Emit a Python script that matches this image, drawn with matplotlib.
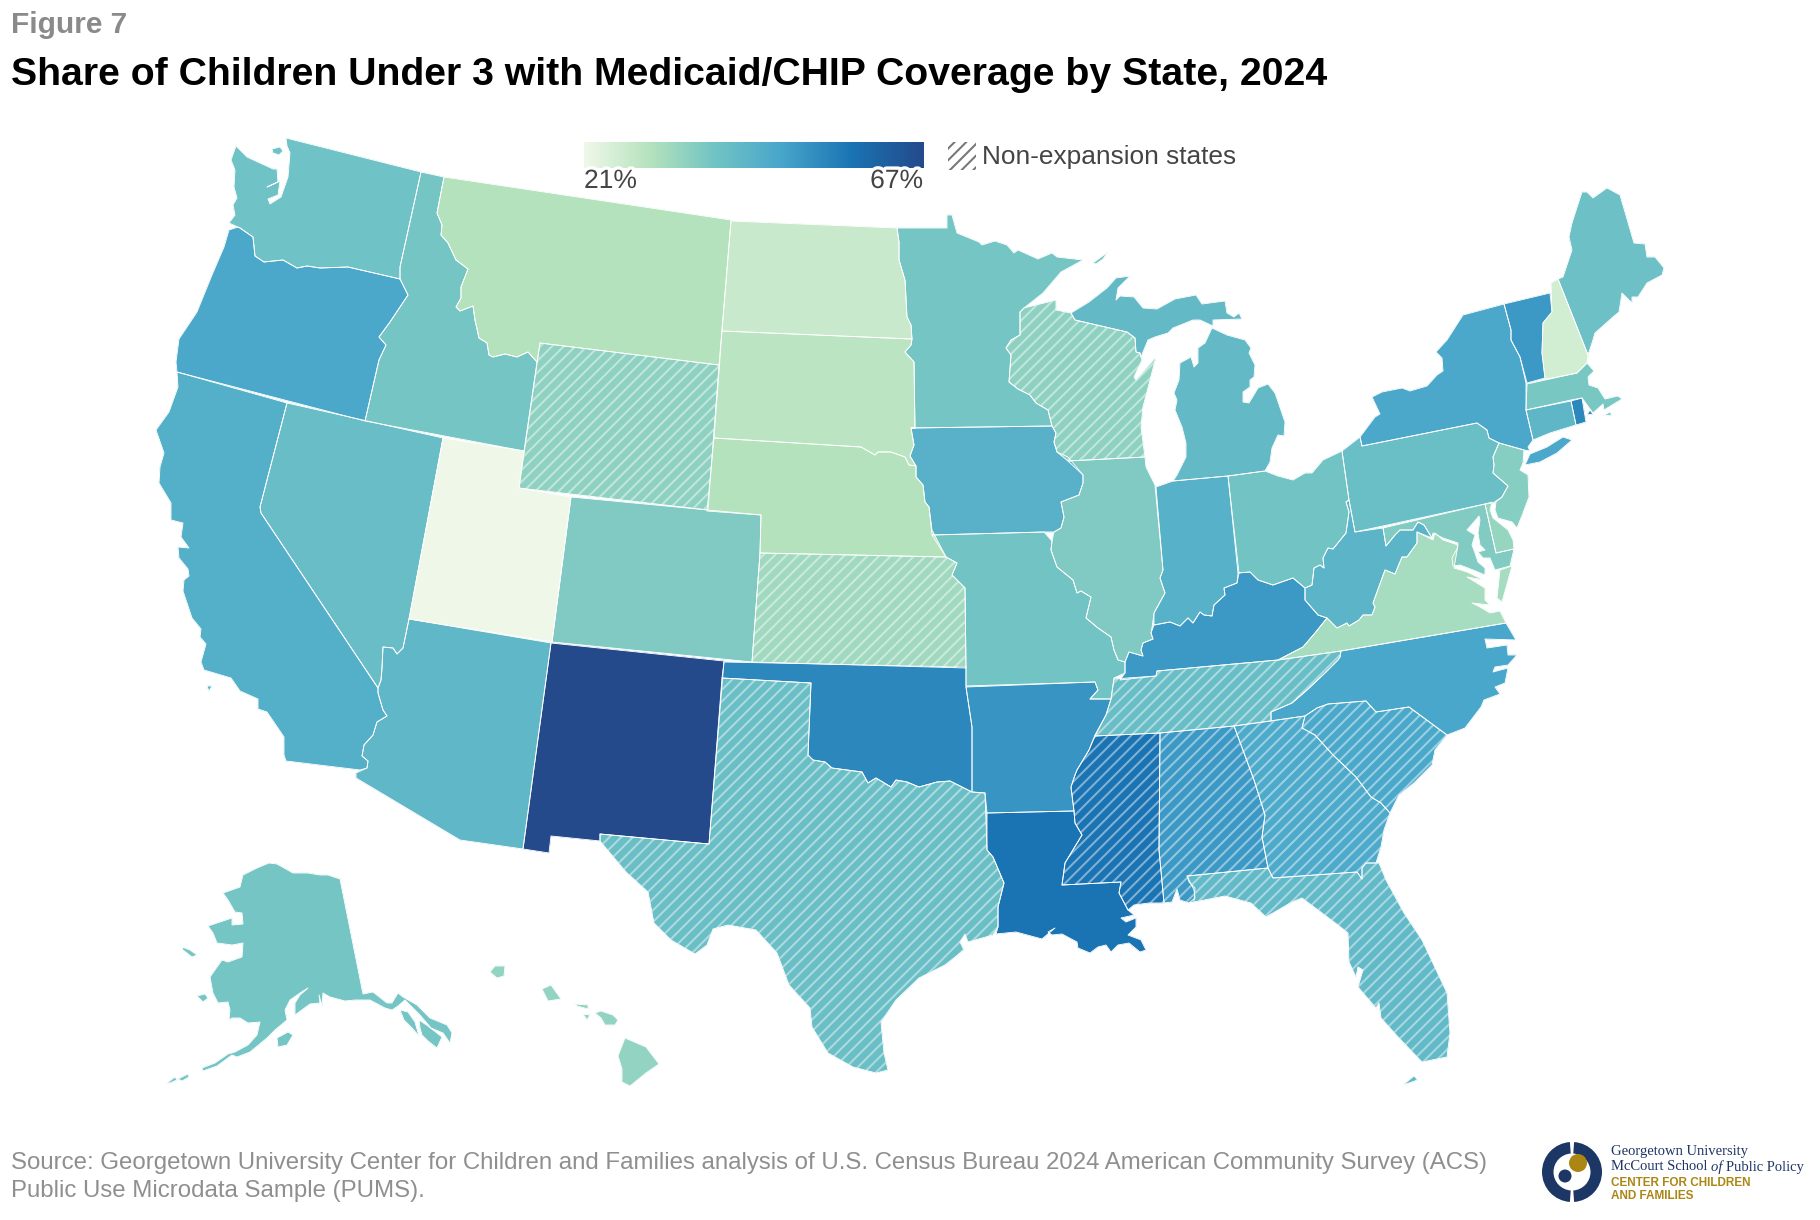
import numpy as np
import matplotlib
matplotlib.use("Agg")
import matplotlib.pyplot as plt
from matplotlib.colors import LinearSegmentedColormap, Normalize, to_rgb
from matplotlib.patches import PathPatch, Circle, Wedge
from matplotlib.path import Path
import matplotlib.patheffects as pe

# ---------- values ----------
STATE_VALUES = {
 "AL":50.2,"AK":38.1,"AZ":42.4,"AR":51.0,"CA":45.0,"CO":36.7,"CT":42.7,"DE":33.9,"FL":42.0,"GA":46.6,
 "HI":34.4,"ID":38.1,"IL":36.8,"IN":44.4,"IA":44.2,"KS":32.6,"KY":50.2,"LA":57.3,"ME":39.6,"MD":36.5,
 "MA":37.6,"MI":41.8,"MN":38.1,"MS":57.3,"MO":38.6,"MT":30.0,"NE":30.0,"NV":40.7,"NH":25.5,"NJ":35.9,
 "NM":67.0,"NY":47.0,"NC":47.5,"ND":27.0,"OH":38.5,"OK":53.7,"OR":47.0,"PA":40.3,"RI":53.7,"SC":47.2,
 "SD":29.0,"TN":40.7,"TX":40.3,"UT":21.0,"VT":50.2,"VA":31.8,"WA":39.2,"WV":43.3,"WI":35.0,"WY":35.0,
}
NON_EXPANSION = ["WY","KS","WI","TX","TN","MS","AL","GA","SC","FL"]
SCALE_STOPS = [21.0, 30.0, 38.5, 47.7, 57.3, 67.0]
SCALE_COLORS = ["#eff8e8", "#b4e2bd", "#72c4c4", "#48a6cb", "#1a74b3", "#244a8c"]
LEGEND_LABELS = ["21%", "67%"]

WA = [[(286,138),(421,172),(400,267),(400,279),(348,267),(320,268),(307,266),(297,268),(283,260),(264,262),(255,256),(253,237),(240,228),(229,223),(235,215),(233,205),(237,198),(234,187),(235,170),(231,160),(236,146),(247,157),(273,169),(277,169),(278,182),(267,187),(280,181),(278,195),(268,199),(270,204),(281,197),(288,177),(290,153),(287,146)],
      [(272,149),(280,147),(283,151),(279,155),(273,153)]]
ID = [[(421,172),(444,177),(437,213),(442,225),(441,235),(448,243),(456,260),(468,269),(461,287),(461,298),(456,307),(460,311),(473,306),(475,320),(479,338),(487,343),(489,355),(493,357),(505,354),(517,357),(528,352),(537,362),(524,451),(365,421),(379,360),(386,345),(379,337),(390,322),(408,295),(400,279),(400,267)]]
OR = [[(400,279),(408,295),(390,322),(379,337),(386,345),(379,360),(365,421),(177,372),(176,362),(179,339),(197,312),(212,275),(224,247),(229,230),(238,227),(240,228),(253,237),(255,256),(264,262),(283,260),(297,268),(307,266),(320,268),(348,267)]]
MT = [[(444,177),(731,220),(719,365),(540,343),(537,362),(528,352),(517,357),(505,354),(493,357),(489,355),(487,343),(479,338),(475,320),(473,306),(460,311),(456,307),(461,298),(461,287),(468,269),(456,260),(448,243),(441,235),(442,225),(437,213)]]
WY = [[(540,343),(719,365),(708,510),(519,488)]]
ND = [[(731,221),(897,228),(899,242),(899,260),(905,280),(907,317),(911,325),(912,339),(722,331)]]
SD = [[(722,331),(912,339),(911,345),(905,352),(914,362),(915,428),(911,428),(914,445),(910,456),(916,466),(909,465),(905,457),(891,452),(878,452),(875,455),(861,447),(714,438)]]
NE = [[(714,438),(861,447),(875,455),(878,452),(891,452),(905,457),(909,465),(916,466),(916,477),(923,485),(925,502),(929,507),(932,530),(946,557),(760,553),(761,515),(707,511)]]
KS = [[(760,553),(946,557),(957,563),(952,575),(965,588),(966,668),(752,662)]]
CO = [[(571,497),(708,510),(761,515),(760,553),(752,662),(552,642)]]
UT = [[(443,438),(524,451),(519,488),(571,497),(552,642),(409,619)]]
NV = [[(287,403),(443,438),(409,619),(403,648),(397,654),(393,648),(383,647),(382,668),(381,680),(378,688),(261,513),(260,507)]]
CA = [[(177,372),(287,403),(260,507),(261,513),(378,688),(378,693),(383,710),(387,716),(377,722),(373,735),(364,745),(362,756),(368,761),(367,768),(360,770),(286,761),(284,755),(284,737),(267,712),(258,709),(258,699),(240,691),(231,678),(204,670),(201,662),(206,644),(200,637),(201,629),(192,618),(183,591),(184,580),(189,576),(188,569),(179,558),(178,547),(189,548),(181,537),(183,523),(171,520),(171,503),(159,483),(160,467),(164,453),(156,430),(169,412),(178,387)],
      [(207,686),(212,686),(209,691)]]
AZ = [[(409,619),(551,643),(523,849),(460,840),(356,778),(356,773),(367,768),(368,761),(362,756),(364,745),(373,735),(377,722),(387,716),(383,710),(378,693),(378,688),(381,680),(382,668),(383,647),(393,648),(397,654),(403,648)]]
NM = [[(551,643),(724,661),(709,844),(600,834),(600,841),(551,836),(549,853),(523,849)]]
OK = [[(724,662),(966,667),(966,687),(972,727),(972,792),(950,781),(937,782),(919,787),(907,782),(896,780),(891,787),(876,778),(868,783),(862,772),(832,768),(825,762),(813,760),(808,755),(811,683),(722,678)]]
TX = [[(722,678),(811,683),(808,755),(813,760),(825,762),(832,768),(862,772),(868,783),(876,778),(891,787),(896,780),(907,782),(919,787),(937,782),(950,781),(972,792),(985,793),(987,850),(993,857),(1004,883),(998,907),(998,927),(993,935),(968,942),(965,934),(960,942),(964,950),(945,965),(919,978),(896,1000),(881,1022),(884,1053),(888,1070),(876,1073),(853,1067),(828,1053),(812,1027),(810,1008),(789,985),(777,953),(756,930),(728,925),(713,929),(707,945),(695,954),(671,940),(654,923),(648,892),(626,872),(600,841),(600,834),(709,844)]]
MN = [[(897,228),(947,228),(947,215),(952,215),(957,233),(979,242),(982,245),(995,241),(1007,245),(1014,253),(1018,250),(1038,259),(1052,253),(1057,257),(1083,260),(1061,272),(1043,293),(1024,308),(1020,312),(1020,335),(1011,340),(1006,348),(1011,355),(1009,382),(1018,389),(1030,395),(1036,403),(1048,410),(1052,426),(911,428),(915,428),(914,362),(905,352),(911,345),(912,339),(911,325),(907,317),(905,280),(899,260),(899,242)],
      [(1093,263),(1108,252),(1103,259),(1096,264)]]
IA = [[(911,428),(1052,426),(1056,433),(1054,442),(1057,452),(1068,457),(1083,475),(1083,483),(1079,495),(1061,502),(1064,517),(1061,528),(1054,532),(1044,532),(932,535),(929,507),(925,502),(923,485),(916,477),(916,466),(910,456),(914,445)]]
MO = [[(932,535),(1044,532),(1052,541),(1051,550),(1057,567),(1073,580),(1077,593),(1081,591),(1091,597),(1086,618),(1098,628),(1111,637),(1114,650),(1118,660),(1125,662),(1125,673),(1114,678),(1111,699),(1090,699),(1098,690),(1095,682),(966,686),(966,668),(965,588),(952,575),(957,563),(946,557)]]
AR = [[(966,687),(1095,682),(1098,690),(1090,699),(1111,699),(1106,715),(1095,735),(1089,750),(1077,770),(1075,775),(1071,787),(1074,811),(987,813),(985,793),(972,792),(972,727)]]
LA = [[(987,813),(1074,811),(1075,823),(1082,835),(1065,863),(1062,885),(1121,882),(1119,893),(1128,910),(1134,915),(1121,918),(1126,922),(1136,918),(1136,927),(1128,935),(1141,940),(1146,950),(1140,952),(1129,943),(1118,945),(1111,952),(1106,945),(1098,947),(1090,953),(1078,948),(1077,942),(1062,934),(1052,935),(1048,932),(1055,928),(1042,939),(1016,932),(996,934),(998,927),(998,907),(1004,883),(993,857),(987,850)]]
MS = [[(1095,736),(1160,733),(1159,850),(1164,903),(1149,903),(1134,905),(1128,910),(1119,893),(1121,882),(1062,885),(1065,863),(1082,835),(1075,823),(1074,811),(1071,787),(1075,775),(1077,770),(1089,750)]]
AL = [[(1160,733),(1234,726),(1254,780),(1265,815),(1262,837),(1268,868),(1187,876),(1189,882),(1195,888),(1194,902),(1189,903),(1180,900),(1177,889),(1172,902),(1164,903),(1159,850)]]
GA = [[(1234,726),(1305,716),(1302,728),(1315,735),(1333,755),(1356,777),(1371,797),(1381,803),(1390,813),(1384,830),(1381,847),(1376,863),(1366,863),(1362,868),(1362,879),(1357,872),(1273,878),(1268,868),(1262,837),(1265,815),(1254,780)]]
SC = [[(1305,716),(1317,708),(1328,704),(1366,701),(1376,712),(1409,707),(1447,735),(1435,750),(1432,765),(1414,783),(1399,795),(1390,813),(1381,803),(1371,797),(1356,777),(1333,755),(1315,735),(1302,728)]]
NC = [[(1271,721),(1271,712),(1292,703),(1307,690),(1325,673),(1338,660),(1340,657),(1341,651),(1506,623),(1516,640),(1485,639),(1487,648),(1507,645),(1508,655),(1517,655),(1508,665),(1495,667),(1493,672),(1508,668),(1505,683),(1495,687),(1500,694),(1484,700),(1481,707),(1465,728),(1447,735),(1409,707),(1376,712),(1366,701),(1328,704),(1317,708),(1305,716)]]
TN = [[(1114,679),(1156,676),(1157,671),(1278,660),(1341,651),(1340,657),(1338,660),(1325,673),(1307,690),(1292,703),(1271,712),(1271,721),(1234,726),(1160,733),(1095,736),(1106,715),(1111,699)]]
KY = [[(1120,680),(1125,673),(1125,662),(1129,652),(1143,656),(1141,650),(1143,643),(1153,639),(1151,633),(1154,625),(1170,622),(1180,626),(1188,618),(1193,623),(1200,612),(1204,615),(1212,616),(1214,605),(1225,595),(1224,588),(1237,583),(1238,573),(1250,572),(1258,580),(1273,585),(1293,578),(1305,588),(1305,600),(1318,615),(1327,618),(1315,633),(1303,647),(1278,660),(1157,671),(1156,676)]]
IL = [[(1068,461),(1145,457),(1146,467),(1155,485),(1163,570),(1160,578),(1165,593),(1154,613),(1152,628),(1151,633),(1153,639),(1143,643),(1141,650),(1143,656),(1129,652),(1125,662),(1118,660),(1114,650),(1111,637),(1098,628),(1086,618),(1091,597),(1081,591),(1077,593),(1073,580),(1057,567),(1051,550),(1052,541),(1054,532),(1061,528),(1064,517),(1061,502),(1079,495),(1083,483),(1083,475)]]
WI = [[(1024,308),(1056,300),(1056,310),(1071,313),(1075,320),(1127,332),(1135,338),(1136,352),(1140,353),(1142,360),(1134,377),(1136,380),(1156,357),(1143,407),(1141,427),(1145,457),(1068,461),(1057,452),(1054,442),(1056,433),(1052,426),(1048,410),(1036,403),(1030,395),(1018,389),(1009,382),(1011,355),(1006,348),(1011,340),(1020,335),(1020,312)]]
MI = [[(1071,313),(1089,302),(1107,288),(1116,278),(1130,276),(1118,288),(1116,300),(1120,296),(1134,297),(1143,308),(1157,309),(1175,299),(1196,295),(1202,304),(1225,301),(1227,313),(1234,317),(1239,313),(1242,319),(1213,320),(1213,326),(1200,320),(1193,320),(1173,328),(1168,333),(1155,337),(1148,340),(1141,357),(1140,353),(1136,352),(1135,338),(1127,332),(1075,320)],
      [(1212,328),(1227,335),(1245,340),(1251,348),(1249,353),(1255,365),(1254,377),(1250,380),(1250,387),(1243,392),(1243,402),(1249,403),(1258,388),(1268,384),(1275,393),(1285,422),(1284,436),(1278,435),(1272,448),(1270,462),(1265,471),(1228,476),(1173,481),(1177,475),(1186,457),(1186,443),(1182,427),(1175,410),(1177,400),(1174,393),(1179,380),(1180,363),(1191,357),(1194,367),(1198,363),(1198,348),(1205,343)]]
IN = [[(1156,487),(1173,481),(1228,476),(1239,573),(1237,583),(1224,588),(1225,595),(1214,605),(1212,616),(1204,615),(1200,612),(1193,623),(1188,618),(1180,626),(1170,622),(1154,625),(1154,613),(1165,593),(1160,578),(1163,570)]]
OH = [[(1228,476),(1265,471),(1278,476),(1293,480),(1305,473),(1312,473),(1323,460),(1342,451),(1349,500),(1346,502),(1349,512),(1346,533),(1333,549),(1328,548),(1323,558),(1324,568),(1320,565),(1314,568),(1312,585),(1305,588),(1293,578),(1273,585),(1258,580),(1250,572),(1238,573)]]
PA = [[(1342,451),(1360,437),(1362,446),(1477,423),(1487,430),(1489,438),(1499,443),(1493,457),(1494,465),(1493,473),(1508,486),(1502,497),(1493,503),(1485,504),(1355,532),(1349,500)]]
NY = [[(1360,437),(1375,417),(1380,414),(1372,397),(1382,392),(1402,388),(1410,391),(1427,386),(1437,375),(1443,371),(1442,358),(1436,352),(1447,340),(1463,315),(1504,304),(1511,330),(1511,340),(1520,357),(1526,383),(1526,410),(1533,440),(1528,447),(1530,451),(1524,450),(1499,443),(1489,438),(1487,430),(1477,423),(1362,446)],
      [(1525,465),(1530,454),(1547,447),(1563,437),(1572,440),(1557,453),(1540,462)]]
VT = [[(1504,304),(1550,293),(1552,312),(1543,323),(1542,353),(1545,378),(1527,383),(1520,357),(1511,340),(1511,330)]]
NH = [[(1551,283),(1558,279),(1588,355),(1587,363),(1577,373),(1547,379),(1545,378),(1542,353),(1543,323),(1552,312)]]
ME = [[(1558,279),(1563,277),(1572,250),(1569,237),(1572,223),(1582,192),(1587,192),(1593,198),(1607,188),(1620,195),(1634,243),(1645,244),(1647,257),(1655,257),(1664,268),(1662,275),(1647,283),(1638,297),(1632,297),(1632,303),(1622,293),(1619,312),(1613,317),(1595,333),(1592,343),(1588,355)]]
MA = [[(1527,384),(1577,373),(1587,363),(1594,371),(1588,377),(1589,385),(1598,388),(1605,399),(1618,396),(1622,399),(1604,410),(1603,404),(1593,413),(1582,398),(1571,400),(1526,410)],
      [(1603,416),(1610,412),(1612,415)]]
CT = [[(1526,410),(1571,401),(1576,425),(1550,433),(1533,440)]]
RI = [[(1571,401),(1582,398),(1586,422),(1576,425)],[(1587,415),(1590,410),(1593,414)]]
NJ = [[(1499,443),(1524,450),(1523,463),(1520,470),(1528,475),(1529,497),(1523,513),(1517,528),(1512,522),(1498,518),(1495,510),(1496,502),(1502,497),(1508,486),(1493,473),(1494,465),(1493,457)]]
DE = [[(1485,504),(1492,502),(1490,510),(1493,518),(1508,530),(1513,540),(1514,549),(1496,553)]]
MD = [[(1383,528),(1485,504),(1496,553),(1514,549),(1510,566),(1495,570),(1490,558),(1483,558),(1478,552),(1485,550),(1480,545),(1478,533),(1480,520),(1479,516),(1467,530),(1475,535),(1472,545),(1475,553),(1478,562),(1485,568),(1485,575),(1473,570),(1460,565),(1453,566),(1452,558),(1457,549),(1458,543),(1443,538),(1433,533),(1432,538),(1424,525),(1418,522),(1413,530),(1400,530),(1395,535),(1386,546)]]
VA = [[(1417,532),(1433,540),(1435,533),(1443,540),(1458,545),(1454,568),(1467,572),(1484,580),(1467,577),(1485,588),(1485,600),(1490,605),(1472,603),(1480,607),(1490,613),(1500,611),(1506,623),(1341,651),(1278,660),(1303,647),(1315,633),(1327,618),(1337,628),(1347,623),(1349,626),(1359,620),(1363,615),(1372,615),(1375,607),(1373,603),(1385,570),(1395,574),(1402,557),(1407,557),(1417,543)],
      [(1512,566),(1500,570),(1497,598),(1502,602)]]
WV = [[(1355,532),(1383,528),(1386,546),(1395,535),(1400,530),(1413,530),(1418,522),(1424,525),(1432,538),(1417,532),(1417,543),(1407,557),(1402,557),(1395,574),(1385,570),(1373,603),(1375,607),(1372,615),(1363,615),(1359,620),(1349,626),(1347,623),(1337,628),(1327,618),(1318,615),(1305,600),(1305,588),(1312,585),(1314,568),(1320,565),(1324,568),(1323,558),(1328,548),(1333,549),(1346,533),(1349,512),(1346,502),(1349,500)]]
FL = [[(1187,876),(1268,868),(1273,878),(1357,872),(1362,879),(1362,868),(1366,863),(1379,863),(1386,880),(1404,913),(1422,940),(1447,993),(1450,1033),(1447,1057),(1422,1062),(1399,1038),(1381,1018),(1379,1003),(1376,1008),(1358,987),(1363,970),(1358,967),(1356,977),(1349,962),(1348,933),(1338,925),(1302,898),(1292,902),(1266,917),(1251,903),(1225,896),(1189,903),(1195,898),(1194,890)],
      [(1403,1085),(1414,1076),(1418,1080)]]
AK = [[(269,863),(277,864),(293,873),(308,873),(320,875),(328,875),(340,879),(363,994),(373,992),(387,1003),(392,1003),(398,993),(403,997),(417,1005),(430,1018),(447,1025),(452,1033),(450,1043),(443,1033),(431,1028),(420,1015),(405,1000),(398,1006),(392,1010),(385,1008),(370,1000),(355,1000),(345,1001),(330,997),(323,993),(322,1006),(319,995),(320,1003),(310,1004),(295,1015),(295,1003),(300,995),(308,988),(300,993),(290,1000),(285,1010),(287,1020),(275,1030),(267,1038),(250,1052),(237,1057),(232,1055),(217,1066),(203,1071),(202,1068),(215,1063),(228,1054),(235,1052),(248,1045),(257,1035),(260,1022),(248,1023),(240,1018),(232,1018),(229,1020),(230,1010),(228,1002),(218,1003),(213,993),(210,977),(222,960),(228,962),(242,957),(243,943),(232,945),(217,943),(213,933),(208,926),(232,918),(232,925),(243,924),(242,913),(235,912),(228,900),(223,893),(240,887),(243,875),(257,868)],
      [(400,1010),(408,1012),(415,1022),(419,1036),(412,1028),(404,1020)],
      [(419,1020),(428,1026),(442,1037),(437,1048),(428,1041),(422,1035),(420,1028)],
      [(277,1038),(288,1032),(293,1035),(287,1045),(278,1047)],
      [(197,996),(205,994),(208,998),(203,1002)],
      [(182,947),(190,950),(197,955),(192,957),(183,950)],
      [(167,1083),(175,1077),(177,1080),(170,1083)],
      [(178,1079),(188,1074),(189,1077),(182,1081)]]
HI = [[(490,972),(495,966),(505,966),(504,976),(497,978)],
      [(542,989),(551,985),(561,999),(548,1001)],
      [(575,1004),(588,1005),(588,1009),(577,1006)],
      [(583,1014),(590,1015),(587,1020)],
      [(595,1013),(601,1011),(613,1015),(618,1020),(615,1025),(605,1025),(601,1018)],
      [(618,1056),(625,1038),(646,1047),(659,1064),(646,1073),(630,1086),(622,1082),(622,1069)]]

OUTLINES = dict(AL=AL,AK=AK,AZ=AZ,AR=AR,CA=CA,CO=CO,CT=CT,DE=DE,FL=FL,GA=GA,HI=HI,ID=ID,IL=IL,IN=IN,IA=IA,KS=KS,KY=KY,LA=LA,ME=ME,MD=MD,MA=MA,MI=MI,MN=MN,MS=MS,MO=MO,MT=MT,NE=NE,NV=NV,NH=NH,NJ=NJ,NM=NM,NY=NY,NC=NC,ND=ND,OH=OH,OK=OK,OR=OR,PA=PA,RI=RI,SC=SC,SD=SD,TN=TN,TX=TX,UT=UT,VT=VT,VA=VA,WA=WA,WV=WV,WI=WI,WY=WY)

# ---------- figure ----------
W, H, DPI = 1820, 1220, 140
plt.rcParams["font.family"] = ["Liberation Sans", "DejaVu Sans"]
plt.rcParams["hatch.linewidth"] = 1.05
fig = plt.figure(figsize=(W / DPI, H / DPI), dpi=DPI, facecolor="white")
ax = fig.add_axes([0, 0, 1, 1])
ax.set_xlim(0, W)
ax.set_ylim(H, 0)

norm = Normalize(21, 67)
cmap = LinearSegmentedColormap.from_list(
    "ccf", [(norm(v), c) for v, c in zip(SCALE_STOPS, SCALE_COLORS)])


def ring_path(rings):
    verts, codes = [], []
    for r in rings:
        verts += list(r) + [r[0]]
        codes += [Path.MOVETO] + [Path.LINETO] * (len(r) - 1) + [Path.CLOSEPOLY]
    return Path(verts, codes)


for st, rings in OUTLINES.items():
    col = cmap(norm(STATE_VALUES[st]))
    ax.add_patch(PathPatch(ring_path(rings), facecolor=col, edgecolor=col, lw=0.2, zorder=2))
for st in NON_EXPANSION:
    rgb = np.array(to_rgb(cmap(norm(STATE_VALUES[st]))))
    hatch_col = tuple(rgb * 0.55 + 0.45)
    ax.add_patch(PathPatch(ring_path(OUTLINES[st]), facecolor="none", edgecolor=hatch_col,
                           hatch="////", lw=0, zorder=3))
for st, rings in OUTLINES.items():
    ax.add_patch(PathPatch(ring_path(rings), facecolor="none", edgecolor="white", lw=0.45,
                           joinstyle="round", zorder=4))

# colour legend
ax.imshow(np.linspace(0, 1, 400).reshape(1, -1), cmap=cmap, extent=(584, 924, 168, 142),
          aspect="auto", zorder=5)
ax.set_xlim(0, W)
ax.set_ylim(H, 0)
halo = [pe.withStroke(linewidth=3.5, foreground="white")]
ax.text(584, 181, LEGEND_LABELS[0], fontsize=13.6, color="#444444", ha="left", va="center",
        path_effects=halo, zorder=6)
ax.text(923, 181, LEGEND_LABELS[1], fontsize=13.6, color="#444444", ha="right", va="center",
        path_effects=halo, zorder=6)
swatch = [(948, 142), (976, 142), (976, 170), (948, 170)]
ax.add_patch(PathPatch(ring_path([swatch]), facecolor="white", edgecolor="#777777", hatch="////", lw=0, zorder=5))
ax.text(982, 157, "Non-expansion states", fontsize=13.5, color="#444444", ha="left", va="center", zorder=6)

# headings and source
ax.text(11, 25, "Figure 7", fontsize=15.4, color="#8a8a8a", ha="left", va="center", fontweight="bold")
ax.text(11, 75, "Share of Children Under 3 with Medicaid/CHIP Coverage by State, 2024",
        fontsize=20.2, color="black", ha="left", va="center", fontweight="bold")
ax.text(11, 1163, "Source: Georgetown University Center for Children and Families analysis of U.S. Census Bureau 2024 American Community Survey (ACS)",
        fontsize=12.35, color="#8f8f8f", ha="left", va="center")
ax.text(11, 1191, "Public Use Microdata Sample (PUMS).", fontsize=12.35, color="#8f8f8f", ha="left", va="center")

# logo
NAVY, GOLD = "#1c3665", "#ab8614"
for a, b in [(-86, 86), (94, 266)]:
    ax.add_patch(Wedge((1572, 1172), 30, a, b, width=11.5, facecolor=NAVY, edgecolor="none", zorder=5))
ax.add_patch(Circle((1578, 1163), 9, facecolor=GOLD, edgecolor="none", zorder=5))
ax.add_patch(Circle((1565, 1176), 6.5, facecolor=NAVY, edgecolor="none", zorder=5))
serif = dict(family="Liberation Serif", fontsize=7.5, color=NAVY, va="center")
ax.text(1611, 1151, "Georgetown University", **serif)
renderer = fig.canvas.get_renderer()
x = 1611
for part, style in [("McCourt School\u00a0", "normal"), ("of\u00a0", "italic"), ("Public Policy", "normal")]:
    t = ax.text(x, 1167, part, fontstyle=style, **serif)
    x = t.get_window_extent(renderer).x1
ax.text(1611, 1183, "CENTER FOR CHILDREN", fontsize=6.05, color=GOLD, va="center", fontweight="bold")
ax.text(1611, 1196, "AND FAMILIES", fontsize=6.05, color=GOLD, va="center", fontweight="bold")

ax.set_aspect("auto")
ax.axis("off")
fig.savefig("out.png", dpi=DPI, facecolor="white")
